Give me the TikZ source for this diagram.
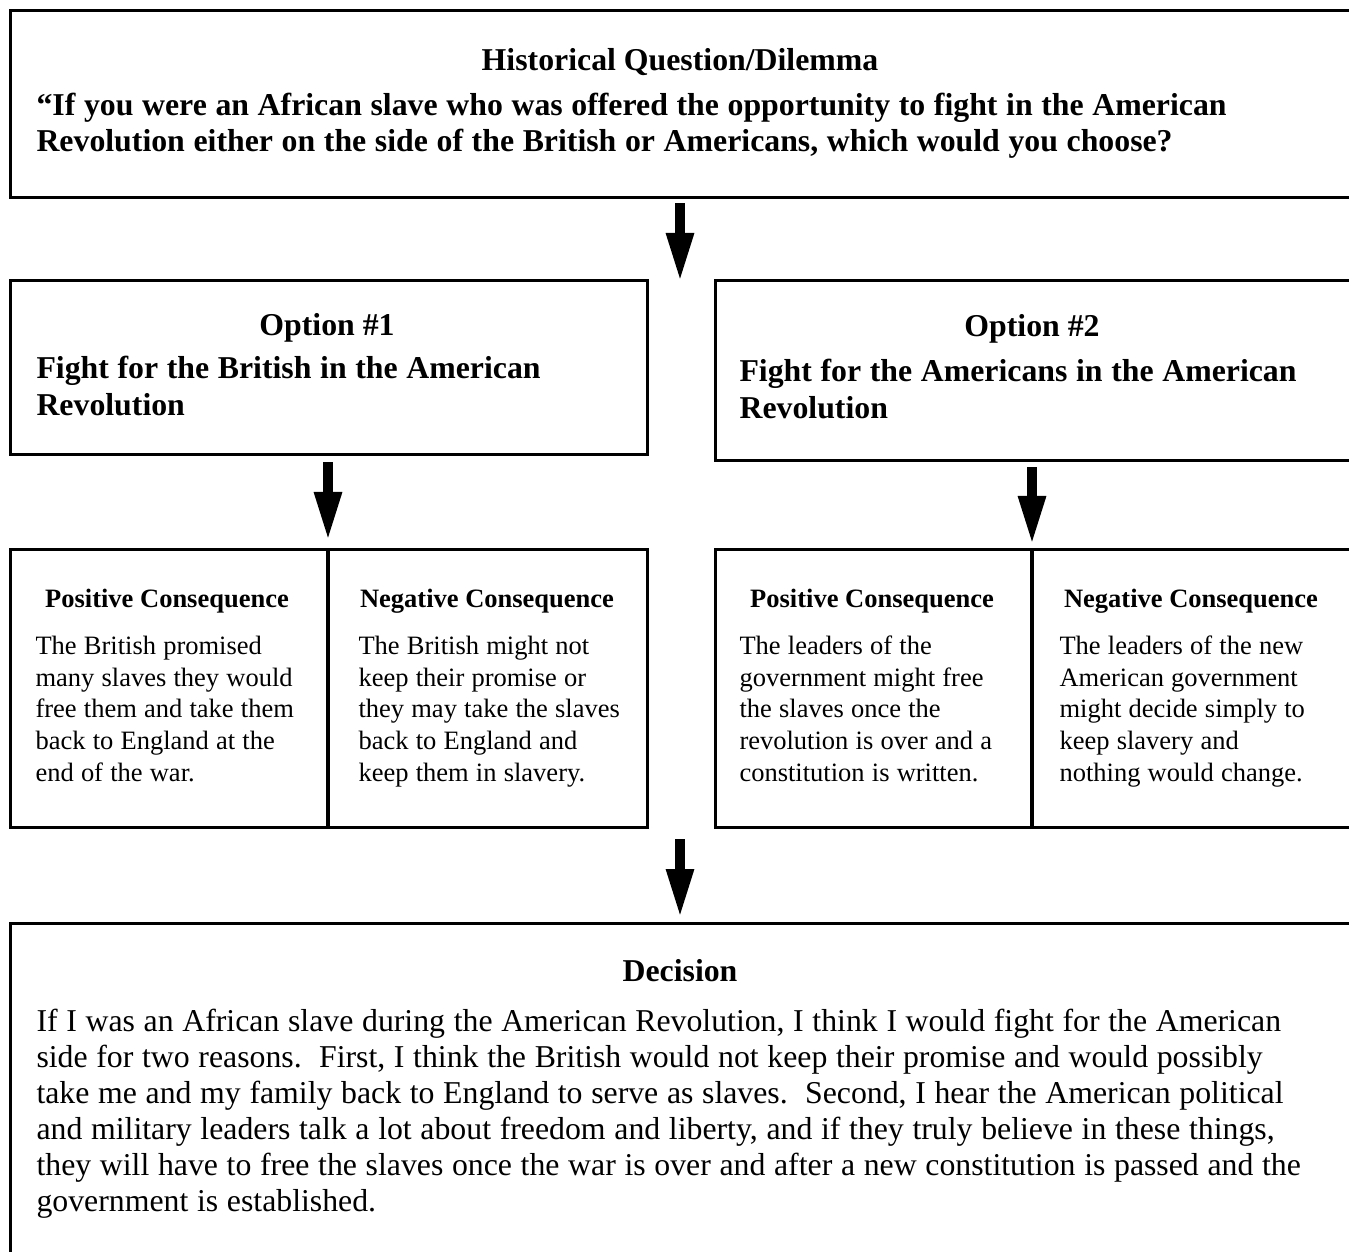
\documentclass[tikz,border=0pt]{standalone}
\usepackage{fontspec}
\setmainfont{Liberation Serif}
\usetikzlibrary{arrows.meta,positioning}
\newlength\pxu
\setlength\pxu{0.3774pt}
\tikzset{
  box/.style={draw, line width=1pt, anchor=north west, inner sep=0pt},
  divider/.style={line width=1.7pt},
  fat/.style={line width=3.8pt, -{Triangle[length=18.5pt,width=9.6pt]}},
  plainspace/.style={execute at begin node={\spaceskip=0.272em\xspaceskip=0pt}},
  bighead/.style={font=\fontsize{12}{13.96}\selectfont\bfseries, inner sep=0pt, anchor=base},
  bigtext/.style={font=\fontsize{12}{13.96}\selectfont\bfseries, inner sep=0pt, anchor=base west, text width=#1, align=left, plainspace},
  smallhead/.style={font=\fontsize{10}{12}\selectfont\bfseries, inner sep=0pt, anchor=base},
  smalltext/.style={font=\fontsize{10}{12.07}\selectfont, inner sep=0pt, anchor=base west, text width=300\pxu, align=left, plainspace},
  decisiontext/.style={font=\fontsize{12}{13.59}\selectfont, inner sep=0pt, anchor=base west, text width=1310\pxu, align=left, plainspace}
}
\begin{document}
\begin{tikzpicture}[x=\pxu, y=-\pxu]
  \useasboundingbox (0,0) rectangle (1349,1251);
  \clip (0,0) rectangle (1349,1251);

  % boxes
  \node[box, minimum width=1343\pxu, minimum height=187\pxu] (question) at (9,9) {};
  \node[box, minimum width=637\pxu, minimum height=174\pxu] (opt1) at (9,279) {};
  \node[box, minimum width=638\pxu, minimum height=180\pxu] (opt2) at (714,279) {};
  \node[box, minimum width=637\pxu, minimum height=278\pxu] (cons1) at (9,548) {};
  \node[box, minimum width=638\pxu, minimum height=278\pxu] (cons2) at (714,548) {};
  \node[box, minimum width=1343\pxu, minimum height=338\pxu] (decision) at (9,922) {};
  \draw[divider] (328,548) -- (328,826);
  \draw[divider] (1032,548) -- (1032,826);

  % question
  \node[bighead] (qtitle) at (680,70) {Historical Question/Dilemma};
  \node[bigtext=1300\pxu] (qtext) at (36,115) {“If you were an African slave who was offered the opportunity to fight in the American\\Revolution either on the side of the British or Americans, which would you choose?};

  % options
  \node[bighead] (o1title) at (327,335) {Option \#1};
  \node[bigtext=600\pxu] (o1text) at (36,378) {Fight for the British in the American\\Revolution};
  \node[bighead] (o2title) at (1032,336) {Option \#2};
  \node[bigtext=600\pxu] (o2text) at (739,381) {Fight for the Americans in the American\\Revolution};

  % consequences
  \node[smallhead] (p1head) at (167,607) {Positive Consequence};
  \node[smalltext] (p1text) at (35,654) {The British promised\\many slaves they would\\free them and take them\\back to England at the\\end of the war.};
  \node[smallhead] (n1head) at (487,607) {Negative Consequence};
  \node[smalltext] (n1text) at (358,654) {The British might not\\keep their promise or\\they may take the slaves\\back to England and\\keep them in slavery.};
  \node[smallhead] (p2head) at (872,607) {Positive Consequence};
  \node[smalltext] (p2text) at (739,654) {The leaders of the\\government might free\\the slaves once the\\revolution is over and a\\constitution is written.};
  \node[smallhead] (n2head) at (1191,607) {Negative Consequence};
  \node[smalltext] (n2text) at (1059,654) {The leaders of the new\\American government\\might decide simply to\\keep slavery and\\nothing would change.};

  % decision
  \node[bighead] (dtitle) at (680,981) {Decision};
  \node[decisiontext] (dtext) at (36,1031) {If I was an African slave during the American Revolution, I think I would fight for the American\\side for two reasons.\ \ First, I think the British would not keep their promise and would possibly\\take me and my family back to England to serve as slaves.\ \ Second, I hear the American political\\and military leaders talk a lot about freedom and liberty, and if they truly believe in these things,\\they will have to free the slaves once the war is over and after a new constitution is passed and the\\government is established.};

  % arrows
  \coordinate (a1top) at (680,203);
  \coordinate (a1tip) at (680,282);
  \coordinate (a2top) at (328,462);
  \coordinate (a2tip) at (328,541);
  \coordinate (a3top) at (1032,467);
  \coordinate (a3tip) at (1032,545);
  \coordinate (a4top) at (680,839);
  \coordinate (a4tip) at (680,918);
  \draw[fat] (a1top) -- (a1tip);
  \draw[fat] (a2top) -- (a2tip);
  \draw[fat] (a3top) -- (a3tip);
  \draw[fat] (a4top) -- (a4tip);
\end{tikzpicture}
\end{document}
